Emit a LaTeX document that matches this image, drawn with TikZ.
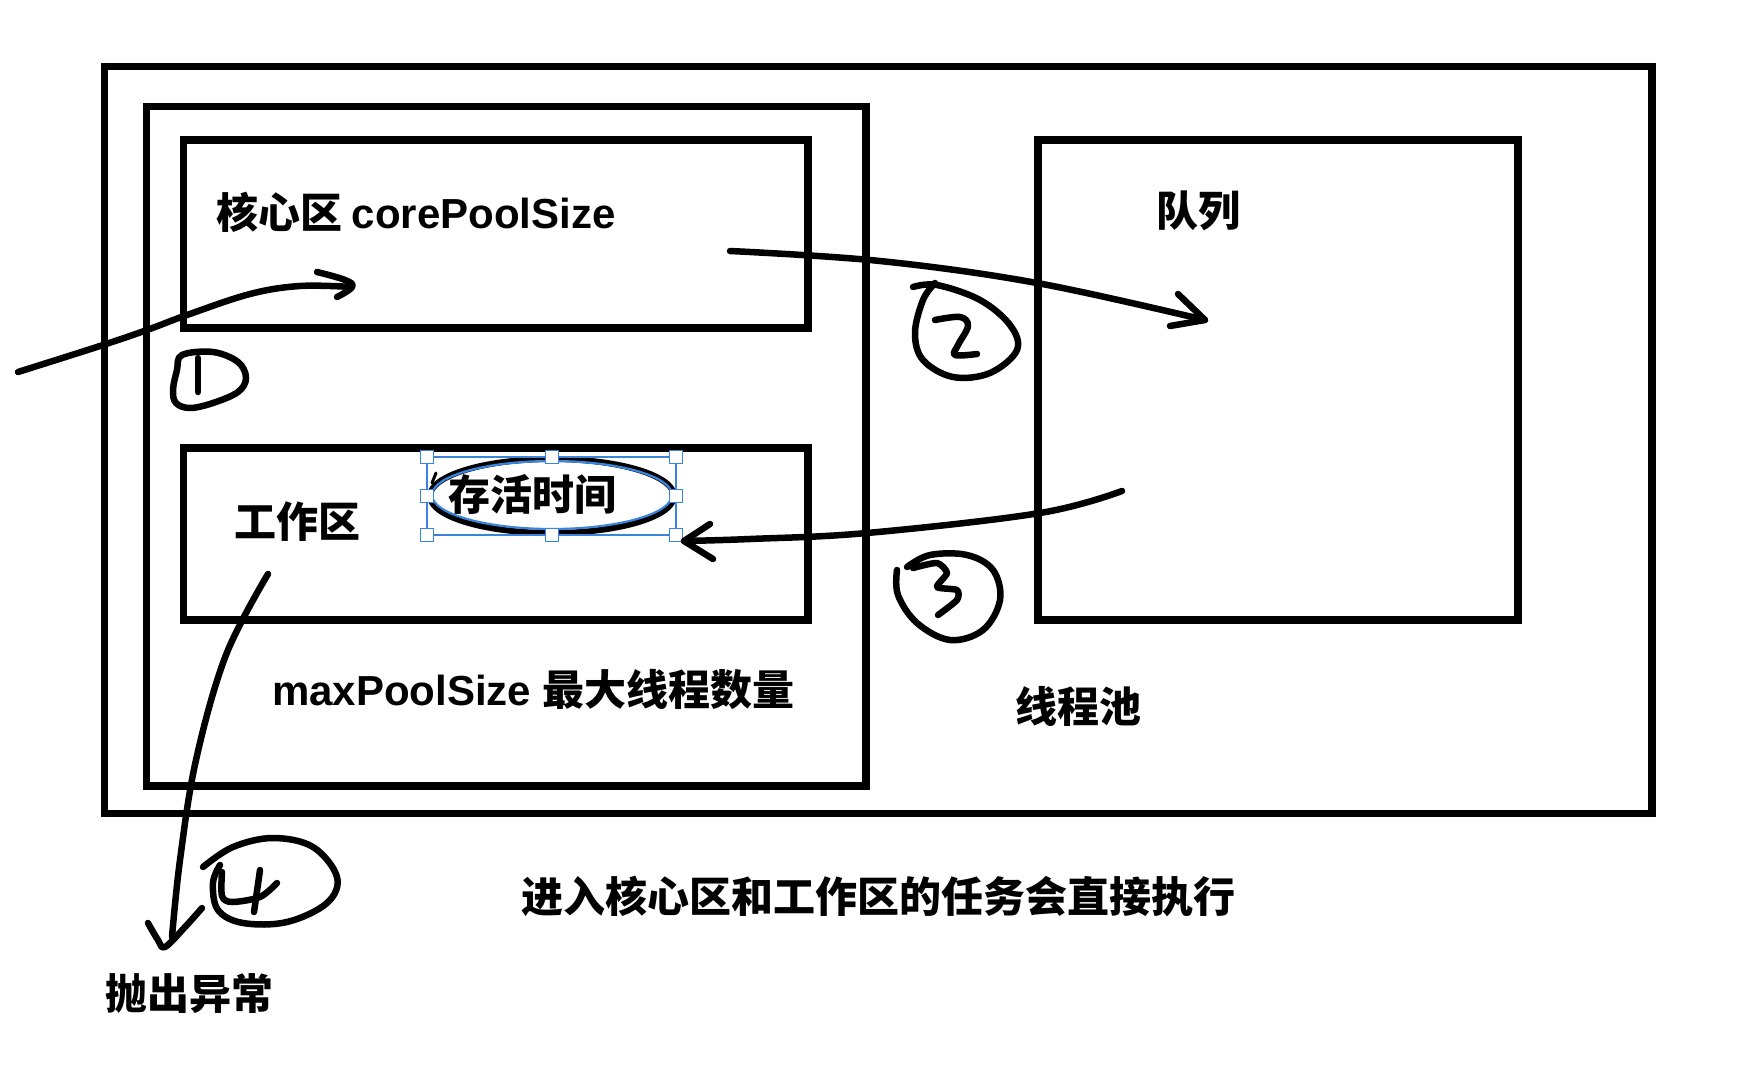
\documentclass[tikz,border=0pt]{standalone}
\usepackage{fontspec}
\setmainfont{Liberation Sans}
\newfontfamily\cjk{Noto Sans CJK SC}
\definecolor{selblue}{RGB}{58,132,222}
\tikzset{
  frame/.style={draw=black, line width=7.3pt, inner sep=0pt, outer sep=0pt},
  txt/.style={anchor=base west, inner sep=0pt, font=\fontsize{42}{50}\selectfont\bfseries},
  hand/.style={line width=6.5pt, line cap=round, line join=round},
  handle/.style={draw=selblue, fill=white, line width=1.5pt, minimum size=13pt, inner sep=0pt}
}
\begin{document}
\begin{tikzpicture}[x=1pt,y=-1pt]
\useasboundingbox (0,0) rectangle (1738,1078);
% frames
\node[frame, minimum width=1547.5pt, minimum height=747pt] (pool) at (878.25,440) {};
\node[frame, minimum width=719.5pt, minimum height=679.5pt] (maxp) at (506.25,446.25) {};
\node[frame, minimum width=624.5pt, minimum height=188pt] (core) at (495.75,234) {};
\node[frame, minimum width=624.5pt, minimum height=172pt] (work) at (495.75,534) {};
\node[frame, minimum width=480pt, minimum height=480pt] (queue) at (1278,380) {};
% texts
\node[txt] (tcore) at (216,229) {\cjk 核心区\ \normalfont\bfseries corePoolSize};
\node[txt] (tqueue) at (1156,227) {\cjk 队列};
\node[txt] (twork) at (234,537) {\cjk 工作区};
\node[txt] (talive) at (448,510) {\cjk 存活时间};
\node[txt] (tmax) at (272,705) {maxPoolSize {\cjk 最大线程数量}};
\node[txt] (tpool) at (1015,722) {\cjk 线程池};
\node[txt] (tnote) at (521,912) {\cjk 进入核心区和工作区的任务会直接执行};
\node[txt] (tthrow) at (105,1009) {\cjk 抛出异常};
% ellipse with selection box
\draw[line width=6pt] (552,496) ellipse [x radius=122, y radius=37];
\draw[selblue, line width=2.2pt] (552,495) ellipse [x radius=120, y radius=34];
\draw[line width=3pt, line cap=round] (436,473) -- (432,483);
\draw[selblue, line width=1.5pt] (427,457) rectangle (676,535);
\foreach \hx/\hy/\hn in {427/457/a,552/457/b,676/457/c,427/496/d,676/496/e,427/535/f,552/535/g,676/535/h}
  \node[handle] (h\hn) at (\hx,\hy) {};
% arrow 1
\coordinate (s1) at (18,372);
\coordinate (e1) at (352,287);
\draw[hand] plot[smooth, tension=0.6] coordinates {(s1) (100,346) (147,330) (187,315) (250,294) (300,286) (e1)};
\draw[hand] plot[smooth, tension=0.7] coordinates {(317,272) (345,280) (e1) (337,297)};
% circle 1
\draw[hand] plot[smooth cycle, tension=0.6] coordinates {(182,355) (213,352) (238,362) (246,378) (238,392) (213,403) (190,408) (176,403) (173,390) (177,370)};
\draw[hand] (198,358) -- (198,392);
% arrow 2
\coordinate (s2) at (730,251);
\coordinate (e2) at (1205,320);
\draw[hand] plot[smooth, tension=0.6] coordinates {(s2) (880,261) (1037,283) (e2)};
\draw[hand] (1178,294) -- (e2) -- (1170,326);
% circle 2
\draw[hand] plot[smooth, tension=0.6] coordinates {(913,287) (937,285) (980,300) (1010,325) (1017,350) (990,373) (953,377) (923,360) (915,333) (923,300) (935,283)};
\draw[hand] plot[smooth, tension=0.6] coordinates {(935,320) (960,317) (968,326) (958,345) (955,355) (977,354)};
% arrow 3
\coordinate (s3) at (1122,491);
\coordinate (e3) at (684,541);
\draw[hand] plot[smooth, tension=0.6] coordinates {(s3) (1040,513) (867,533) (750,539) (e3)};
\draw[hand] (710,524) -- (e3) -- (713,559);
% circle 3
\draw[hand] plot[smooth, tension=0.6] coordinates {(897,570) (898,595) (917,623) (950,640) (983,630) (1000,600) (993,570) (967,555) (930,555) (907,567)};
\draw[hand] plot[smooth, tension=0.4] coordinates {(913,568) (937,563) (947,573) (937,587) (957,590) (957,600) (938,615)};
% arrow 4
\coordinate (s4) at (268,574);
\coordinate (e4) at (165,947);
\draw[hand] plot[smooth, tension=0.6] coordinates {(s4) (226,655) (196,760) (180,860) (172,937)};
\draw[hand] plot[smooth, tension=0.6] coordinates {(148,923) (158,940) (e4) (185,927) (202,908)};
% circle 4
\draw[hand] plot[smooth, tension=0.6] coordinates {(203,867) (233,847) (273,838) (313,847) (337,877) (327,903) (287,922) (243,923) (218,910) (213,883) (220,865)};
\draw[hand] plot[smooth, tension=0.5] coordinates {(222,872) (222,896) (232,902) (260,897) (277,883)};
\draw[hand] (260,870) -- (254,912);
\end{tikzpicture}
\end{document}
